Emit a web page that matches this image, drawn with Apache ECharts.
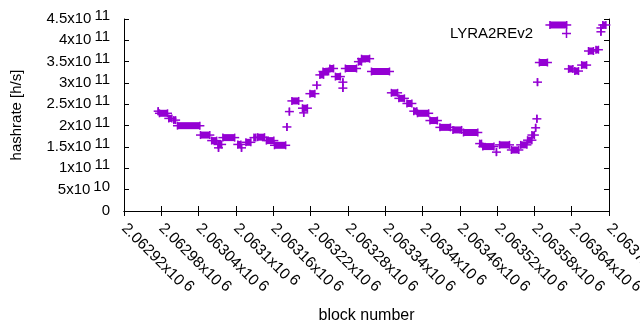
<!DOCTYPE html>
<html>
<head>
<meta charset="utf-8">
<script src="https://cdn.jsdelivr.net/npm/echarts@6/dist/echarts.min.js"></script>
<style>
  html, body { margin: 0; padding: 0; background: #fff; }
  #chart { width: 640px; height: 330px; }
</style>
</head>
<body>
<div id="chart"></div>
<script>
// runs of consecutive blocks with the same hashrate (start == end is a single block)
const runStart = [
  2062975, 2062977, 2062992, 2063000, 2063006, 2063043, 2063061, 2063071, 2063072, 2063079,
  2063103, 2063109, 2063116, 2063129, 2063135, 2063149, 2063162, 2063182, 2063186, 2063190,
  2063207, 2063209, 2063219, 2063230, 2063235, 2063240, 2063251, 2063260, 2063272, 2063272,
  2063276, 2063297, 2063302, 2063318, 2063350, 2063362, 2063375, 2063386, 2063392, 2063412,
  2063428, 2063449, 2063466, 2063492, 2063497, 2063519, 2063524, 2063543, 2063558, 2063569,
  2063576, 2063582, 2063584, 2063585, 2063588, 2063605, 2063635, 2063645, 2063656, 2063667,
  2063679, 2063687, 2063687, 2063690
];
const runEnd = [
  2062975, 2062990, 2062997, 2063003, 2063042, 2063058, 2063069, 2063077, 2063072, 2063098,
  2063108, 2063109, 2063124, 2063132, 2063146, 2063161, 2063180, 2063182, 2063186, 2063201,
  2063215, 2063209, 2063227, 2063230, 2063241, 2063249, 2063257, 2063268, 2063272, 2063272,
  2063294, 2063302, 2063315, 2063347, 2063360, 2063371, 2063383, 2063391, 2063410, 2063424,
  2063445, 2063463, 2063489, 2063495, 2063515, 2063519, 2063540, 2063555, 2063568, 2063576,
  2063580, 2063582, 2063584, 2063585, 2063601, 2063632, 2063642, 2063651, 2063664, 2063675,
  2063683, 2063687, 2063687, 2063695
];
const runValue = [
  2.34e11, 2.29e11, 2.17e11, 2.13e11, 2.00e11, 1.78e11, 1.65e11, 1.56e11, 1.48e11, 1.72e11,
  1.56e11, 1.48e11, 1.61e11, 1.72e11, 1.73e11, 1.65e11, 1.54e11, 1.97e11, 2.33e11, 2.58e11,
  2.41e11, 2.30e11, 2.75e11, 2.95e11, 3.19e11, 3.27e11, 3.34e11, 3.15e11, 3.02e11, 2.88e11,
  3.34e11, 3.50e11, 3.57e11, 3.27e11, 2.77e11, 2.64e11, 2.52e11, 2.34e11, 2.29e11, 2.12e11,
  1.96e11, 1.90e11, 1.84e11, 1.58e11, 1.51e11, 1.38e11, 1.55e11, 1.43e11, 1.55e11, 1.66e11,
  1.78e11, 1.95e11, 2.16e11, 3.02e11, 3.48e11, 4.36e11, 3.33e11, 3.28e11, 3.42e11, 3.75e11,
  3.78e11, 4.20e11, 4.29e11, 4.36e11
];

const xMin = 2062920;
const xMax = 2063700;
const xStep = 60;
const xTickMantissa = ['2.06292', '2.06298', '2.06304', '2.0631', '2.06316', '2.06322', '2.06328',
  '2.06334', '2.0634', '2.06346', '2.06352', '2.06358', '2.06364', '2.0637'];
const xTickExp = '6';

const yStep = 5e10;
const yTickMantissa = ['0', '5', '1', '1.5', '2', '2.5', '3', '3.5', '4', '4.5'];
const yTickExp = ['', '10', '11', '11', '11', '11', '11', '11', '11', '11'];

const seriesName = 'LYRA2REv2';
const color = '#9400d3';
const font = 'Liberation Sans';
const fs = 15;

const chart = echarts.init(document.getElementById('chart'));

// exponent is raised by padding under it; keep the label box short enough
// that neighbouring y labels are not treated as overlapping
function supRich(size) {
  return {
    m: { fontFamily: font, fontSize: size, color: '#000' },
    e: { fontFamily: font, fontSize: size, color: '#000', padding: [0, 0, 6, 3] }
  };
}

const plusPath = 'path://M3.75,0h1.5v3.75h3.75v1.5h-3.75v3.75h-1.5v-3.75h-3.75v-1.5h3.75z';

function renderRun(params, api) {
  const v = api.value(2);
  const p0 = api.coord([api.value(0), v]);
  const p1 = api.coord([api.value(1), v]);
  const st = { stroke: color, lineWidth: 1.5 };
  const children = [
    { type: 'line', shape: { x1: p0[0] - 4.5, y1: p0[1], x2: p1[0] + 4.5, y2: p1[1] }, style: st },
    { type: 'line', shape: { x1: p0[0], y1: p0[1] - 4, x2: p0[0], y2: p0[1] + 4 }, style: st },
    { type: 'line', shape: { x1: p1[0], y1: p1[1] - 4, x2: p1[0], y2: p1[1] + 4 }, style: st }
  ];
  if (p1[0] > p0[0]) {
    children.push({
      type: 'rect',
      shape: { x: p0[0], y: p0[1] - 3.5, width: p1[0] - p0[0], height: 7 },
      style: { fill: color }
    });
  }
  return { type: 'group', children: children };
}

const frameLine = { lineStyle: { color: '#000', width: 1 } };
const innerTick = { show: true, inside: true, length: 5, lineStyle: { color: '#000' } };

const option = {
  backgroundColor: '#fff',
  animation: false,
  textStyle: { fontFamily: font },
  grid: { left: 124, right: 31, top: 19, bottom: 119, containLabel: false, outerBoundsMode: 'none' },
  legend: {
    data: [{ name: seriesName, icon: plusPath }],
    align: 'right',
    right: 64,
    top: 21,
    itemWidth: 9,
    itemHeight: 9,
    textStyle: { fontFamily: font, fontSize: fs, color: '#000', padding: [0, 24, 0, 0] }
  },
  xAxis: [
    {
      type: 'value',
      min: xMin,
      max: xMax,
      interval: xStep,
      name: 'block number',
      nameLocation: 'middle',
      nameGap: 97,
      nameTextStyle: { fontFamily: font, fontSize: 16, color: '#000' },
      axisLine: frameLine,
      axisTick: innerTick,
      splitLine: { show: false },
      axisLabel: {
        rotate: -45,
        margin: 15,
        showMaxLabel: true,
        showMinLabel: true,
        hideOverlap: false,
        formatter: function (val) {
          const i = Math.round((val - xMin) / xStep);
          return '{m|' + xTickMantissa[i] + 'x10}{e|' + xTickExp + '}';
        },
        rich: supRich(15.5)
      }
    },
    {
      type: 'value',
      position: 'top',
      min: xMin,
      max: xMax,
      interval: xStep,
      axisLine: frameLine,
      axisTick: innerTick,
      axisLabel: { show: false },
      splitLine: { show: false }
    }
  ],
  yAxis: [
    {
      type: 'value',
      min: 0,
      max: 4.5e11,
      interval: yStep,
      name: 'hashrate [h/s]',
      nameLocation: 'middle',
      nameGap: 100,
      nameRotate: 90,
      nameTextStyle: { fontFamily: font, fontSize: fs, color: '#000' },
      axisLine: { show: true, lineStyle: { color: '#000', width: 1 } },
      axisTick: innerTick,
      splitLine: { show: false },
      axisLabel: {
        margin: 14,
        showMaxLabel: true,
        showMinLabel: true,
        hideOverlap: false,
        formatter: function (val) {
          const i = Math.round(val / yStep);
          if (!yTickExp[i]) return '{m|' + yTickMantissa[i] + '}';
          return '{m|' + yTickMantissa[i] + 'x10}{e|' + yTickExp[i] + '}';
        },
        rich: supRich(fs)
      }
    },
    {
      type: 'value',
      position: 'right',
      min: 0,
      max: 4.5e11,
      interval: yStep,
      axisLine: { show: true, lineStyle: { color: '#000', width: 1 } },
      axisTick: innerTick,
      axisLabel: { show: false },
      splitLine: { show: false }
    }
  ],
  series: [
    {
      name: seriesName,
      type: 'custom',
      renderItem: renderRun,
      itemStyle: { color: color },
      encode: { x: [0, 1], y: 2 },
      data: runStart.map((s, i) => [s, runEnd[i], runValue[i]])
    }
  ]
};

chart.setOption(option);
</script>
</body>
</html>
